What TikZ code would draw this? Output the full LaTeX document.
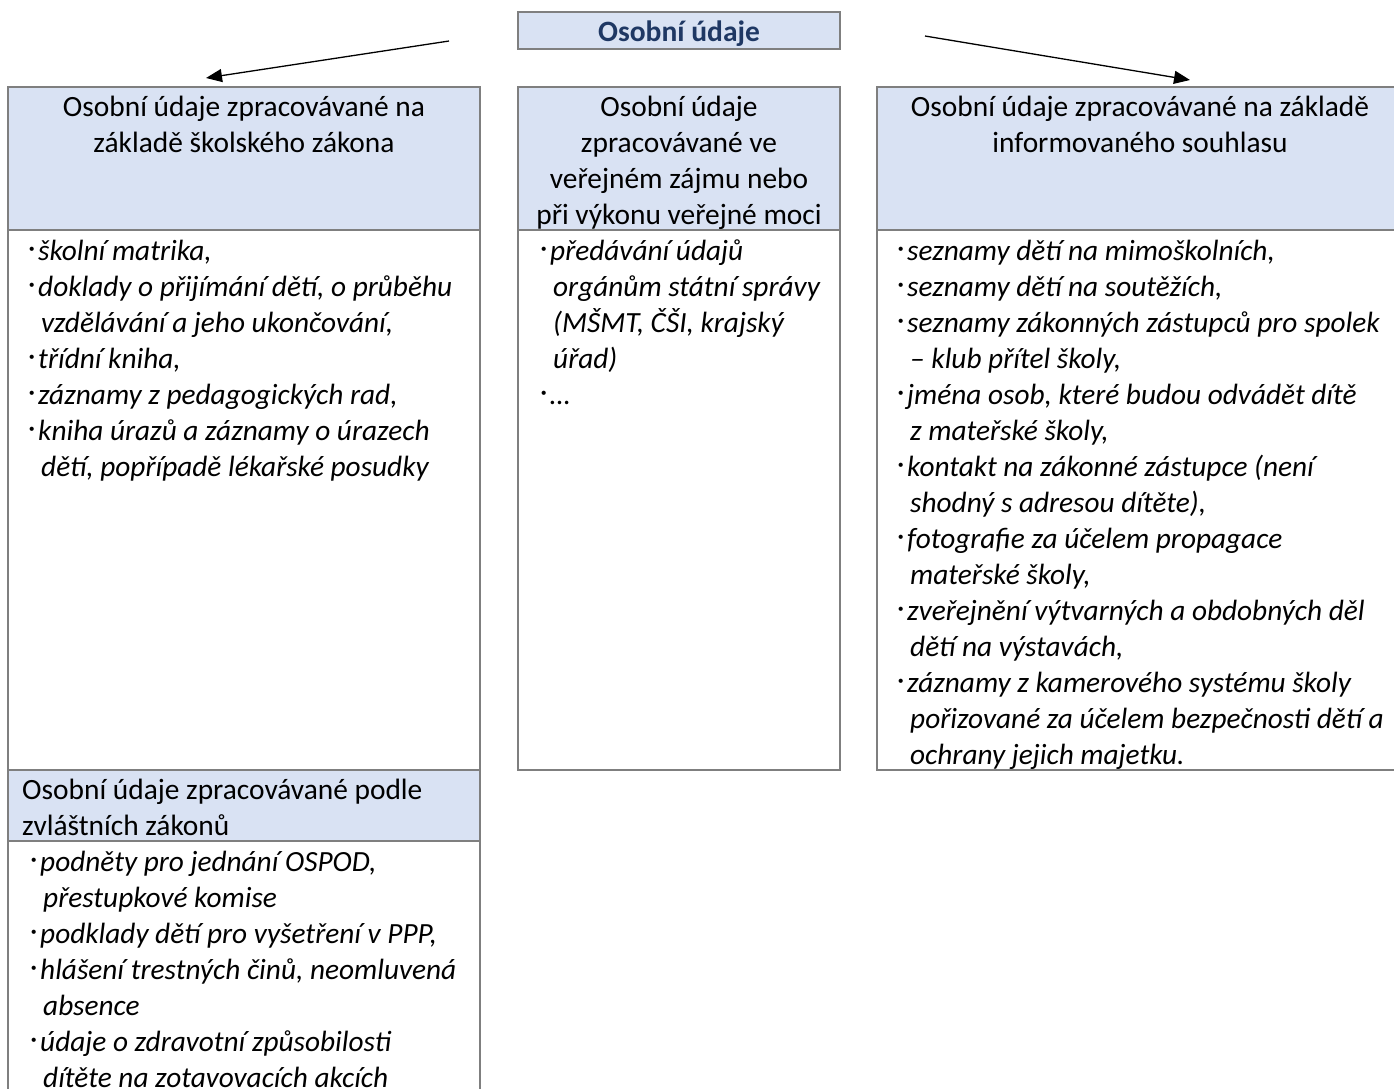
\documentclass[tikz,border=0pt]{standalone}
\usepackage{fontspec}
\setmainfont{Carlito}
\usetikzlibrary{calc,arrows.meta,positioning}
\definecolor{ramcek}{HTML}{7F7F7F}
\definecolor{hlavicka}{HTML}{D9E2F3}
\definecolor{nadpis}{HTML}{1F3864}
\newcommand{\odr}{\makebox[10pt][l]{\upshape\raisebox{3pt}{\textperiodcentered}}}
\newcommand{\pokr}{\hspace*{13pt}}

\begin{document}
\begin{tikzpicture}[x=1pt,y=-1pt,
	ram/.style={draw=ramcek,line width=2pt,anchor=north west,inner sep=0pt,outer sep=0pt},
	hlava/.style={ram,fill=hlavicka},
	telo/.style={ram,fill=white},
	htext/.style={anchor=north,inner sep=0pt,align=center,font=\fontsize{29.4}{36}\selectfont,yshift=-4pt},
	btext/.style={anchor=north west,inner sep=0pt,align=left,font=\fontsize{29.3}{36}\selectfont\itshape,xshift=20pt,yshift=-5pt}]
					\useasboundingbox (0,0) rectangle (1394,1088);
					%NADPIS
					\node[hlava,minimum width=322pt,minimum height=37pt] (titul) at (518,12) {};
					\node[text=nadpis,font=\fontsize{29.5}{32}\selectfont\bfseries,inner sep=0pt,yshift=-3pt] (titultxt) at (titul.center) {Osobní údaje};
					
					%SLOUPCE
					\node[hlava,minimum width=472pt,minimum height=143pt] (lhead) at (8,87) {};
					\node[telo,minimum width=472pt,minimum height=540pt,below=0pt of lhead.south west,anchor=north west] (lbody) {};
					\node[hlava,minimum width=322pt,minimum height=143pt] (mhead) at (518,87) {};
					\node[telo,minimum width=322pt,minimum height=540pt,below=0pt of mhead.south west,anchor=north west] (mbody) {};
					\node[hlava,minimum width=526pt,minimum height=143pt] (rhead) at (877,87) {};
					\node[telo,minimum width=526pt,minimum height=540pt,below=0pt of rhead.south west,anchor=north west] (rbody) {};
					\node[hlava,minimum width=472pt,minimum height=71pt,below=0pt of lbody.south west,anchor=north west] (zhead) {};
					\node[telo,minimum width=472pt,minimum height=260pt,below=0pt of zhead.south west,anchor=north west] (zbody) {};
					
					%HLAVICKY
					\node[htext] (lheadtxt) at (lhead.north) {\strut Osobní údaje zpracovávané na\\základě školského zákona};
					\node[htext] (mheadtxt) at (mhead.north) {\strut Osobní údaje\\zpracovávané ve\\veřejném zájmu nebo\\při výkonu veřejné moci};
					\node[htext] (rheadtxt) at (rhead.north) {\strut Osobní údaje zpracovávané na základě\\informovaného souhlasu};
					\node[htext,anchor=north west,align=left,xshift=14pt,yshift=0pt] (zheadtxt) at (zhead.north west) {\strut Osobní údaje zpracovávané podle\\zvláštních zákonů};
					
					%POLOZKY
					\node[btext] (lbodytxt) at (lbody.north west) {\strut\odr školní matrika,\\
						\odr doklady o přijímání dětí, o průběhu\\
						\pokr vzdělávání a jeho ukončování,\\
						\odr třídní kniha,\\
						\odr záznamy z pedagogických rad,\\
						\odr kniha úrazů a záznamy o úrazech\\
						\pokr dětí, popřípadě lékařské posudky};
					\node[btext,xshift=2pt] (mbodytxt) at (mbody.north west) {\strut\odr předávání údajů\\
						\pokr orgánům státní správy\\
						\pokr (MŠMT, ČŠI, krajský\\
						\pokr úřad)\\
						\odr …};
					\node[btext] (rbodytxt) at (rbody.north west) {\strut\odr seznamy dětí na mimoškolních,\\
						\odr seznamy dětí na soutěžích,\\
						\odr seznamy zákonných zástupců pro spolek\\
						\pokr – klub přítel školy,\\
						\odr jména osob, které budou odvádět dítě\\
						\pokr z mateřské školy,\\
						\odr kontakt na zákonné zástupce (není\\
						\pokr shodný s adresou dítěte),\\
						\odr fotografie za účelem propagace\\
						\pokr mateřské školy,\\
						\odr zveřejnění výtvarných a obdobných děl\\
						\pokr dětí na výstavách,\\
						\odr záznamy z kamerového systému školy\\
						\pokr pořizované za účelem bezpečnosti dětí a\\
						\pokr ochrany jejich majetku.};
					\node[btext,xshift=2pt,yshift=0pt] (zbodytxt) at (zbody.north west) {\strut\odr podněty pro jednání OSPOD,\\
						\pokr přestupkové komise\\
						\odr podklady dětí pro vyšetření v PPP,\\
						\odr hlášení trestných činů, neomluvená\\
						\pokr absence\\
						\odr údaje o zdravotní způsobilosti\\
						\pokr dítěte na zotavovacích akcích};
					
					%SIPKY
					\coordinate (lz) at (449,41);
					\coordinate (lk) at (206,78);
					\coordinate (rz) at (925,36);
					\coordinate (rk) at (1190,80);
					\draw[-{Triangle[length=16pt,width=13pt]},line width=1.3pt] (lz) -- (lk);
					\draw[-{Triangle[length=16pt,width=13pt]},line width=1.3pt] (rz) -- (rk);
				  \end{tikzpicture}
\end{document}
